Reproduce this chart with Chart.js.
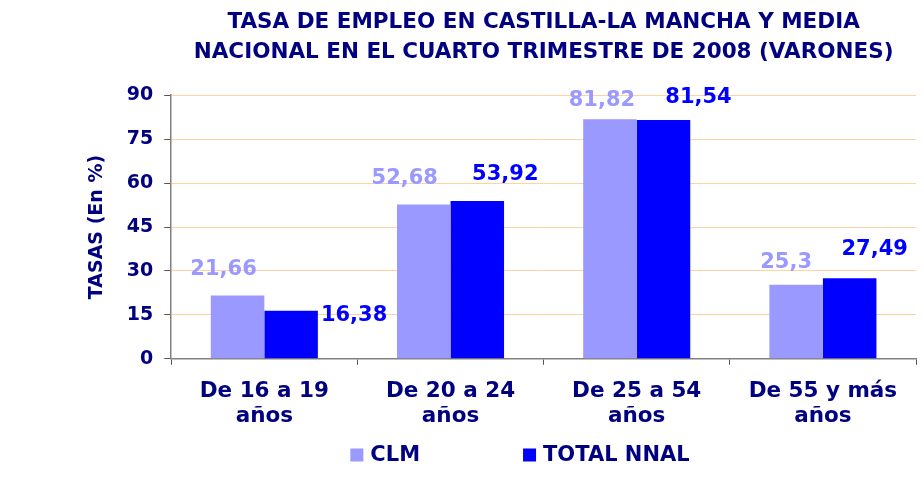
<!DOCTYPE html>
<html>
<head>
<meta charset="utf-8">
<script src="https://cdn.jsdelivr.net/npm/chart.js@4"></script>
<style>
  html, body { margin: 0; padding: 0; background: #fff; }
  #wrap { width: 924px; height: 477px; }
</style>
</head>
<body>
<div id="wrap"><canvas id="Chart"></canvas></div>
<script>
// categorias y valores
const grupos = [
    ['De 16 a 19', 'años'],
    ['De 20 a 24', 'años'],
    ['De 25 a 54', 'años'],
    ['De 55 y más', 'años'],
];
const clm = [21.66, 52.68, 81.82, 25.3];
const totalNnal = [16.38, 53.92, 81.54, 27.49];

// desplazamiento de las etiquetas (como en la hoja original)
const offClm = [[-14, -26], [-19, -26], [-8, -19], [-10, -22]];
const offTotal = [[63, 5], [28, -26], [35, -22], [25, -29]];

const azulOscuro = '#000080';
const fuente = 'DejaVu Sans';

// etiquetas de valor
const etiquetas = {
    id: 'etiquetas',
    afterDatasetsDraw(chart) {
        const ctx = chart.ctx;
        ctx.save();
        ctx.font = 'bold 21px "' + fuente + '"';
        ctx.textAlign = 'center';
        ctx.textBaseline = 'middle';
        chart.data.datasets.forEach((ds, d) => {
            const offs = d === 0 ? offClm : offTotal;
            chart.getDatasetMeta(d).data.forEach((bar, i) => {
                ctx.fillStyle = ds.backgroundColor;
                const txt = String(ds.data[i]).replace('.', ',');
                ctx.fillText(txt, bar.x + offs[i][0], bar.y + offs[i][1]);
            });
        });
        ctx.restore();
    }
};

// leyenda abajo
const leyenda = {
    id: 'leyenda',
    afterDraw(chart) {
        const ctx = chart.ctx;
        ctx.save();
        ctx.font = 'bold 21px "' + fuente + '"';
        ctx.textBaseline = 'middle';
        const box = 13, gap = 7, sep = 103;
        const items = chart.data.datasets.map(ds => ({
            text: ds.label, color: ds.backgroundColor,
            w: box + gap + ctx.measureText(ds.label).width
        }));
        let total = sep * (items.length - 1);
        items.forEach(it => total += it.w);
        let x = 520 - total / 2;
        const y = 455;
        items.forEach(it => {
            ctx.fillStyle = it.color;
            ctx.fillRect(x, y - box / 2, box, box);
            ctx.fillStyle = azulOscuro;
            ctx.fillText(it.text, x + box + gap, y + 1);
            x += it.w + sep;
        });
        ctx.restore();
    }
};

const data = {
    labels: grupos,
    datasets: [{
        label: 'CLM',
        data: clm,
        backgroundColor: '#9999FF',
        categoryPercentage: 0.575,
        barPercentage: 1
    },
    {
        label: 'TOTAL NNAL',
        data: totalNnal,
        backgroundColor: '#0000FF',
        categoryPercentage: 0.575,
        barPercentage: 1
    }]
};

const config = {
    type: 'bar',
    data: data,
    options: {
        responsive: true,
        maintainAspectRatio: false,
        animation: false,
        layout: { padding: { left: 0, right: 8, top: 0, bottom: 34 } },
        plugins: {
            legend: { display: false },
            tooltip: { enabled: false },
            title: {
                display: true,
                fullSize: false,
                text: ['TASA DE EMPLEO EN CASTILLA-LA MANCHA Y MEDIA',
                       'NACIONAL EN EL CUARTO TRIMESTRE DE 2008 (VARONES)'],
                color: azulOscuro,
                font: { family: fuente, size: 21.5, weight: 'bold', lineHeight: 1.4 },
                padding: { top: 7, bottom: 28 }
            }
        },
        scales: {
            x: {
                grid: {
                    offset: true,
                    drawOnChartArea: false,
                    drawTicks: true,
                    tickLength: 6,
                    tickColor: '#555'
                },
                border: { color: '#808080', width: 1.5 },
                ticks: {
                    color: azulOscuro,
                    padding: 15,
                    maxRotation: 0,
                    font: { family: fuente, size: 21.5, weight: 'bold', lineHeight: 1.12 }
                }
            },
            y: {
                min: 0,
                max: 90,
                ticks: {
                    stepSize: 15,
                    color: azulOscuro,
                    padding: 11,
                    font: { family: fuente, size: 19, weight: 'bold' }
                },
                grid: {
                    color: '#FFD3A0',
                    lineWidth: 1,
                    tickLength: 7,
                    tickColor: '#555'
                },
                border: { color: '#808080', width: 1.5 },
                title: {
                    display: true,
                    text: 'TASAS (En %)',
                    color: azulOscuro,
                    font: { family: fuente, size: 19, weight: 'bold', lineHeight: 1.2 },
                    padding: { top: 86, bottom: 7 }
                }
            }
        }
    },
    plugins: [etiquetas, leyenda]
};

var myChart = new Chart(document.getElementById('Chart'), config);
</script>
</body>
</html>
